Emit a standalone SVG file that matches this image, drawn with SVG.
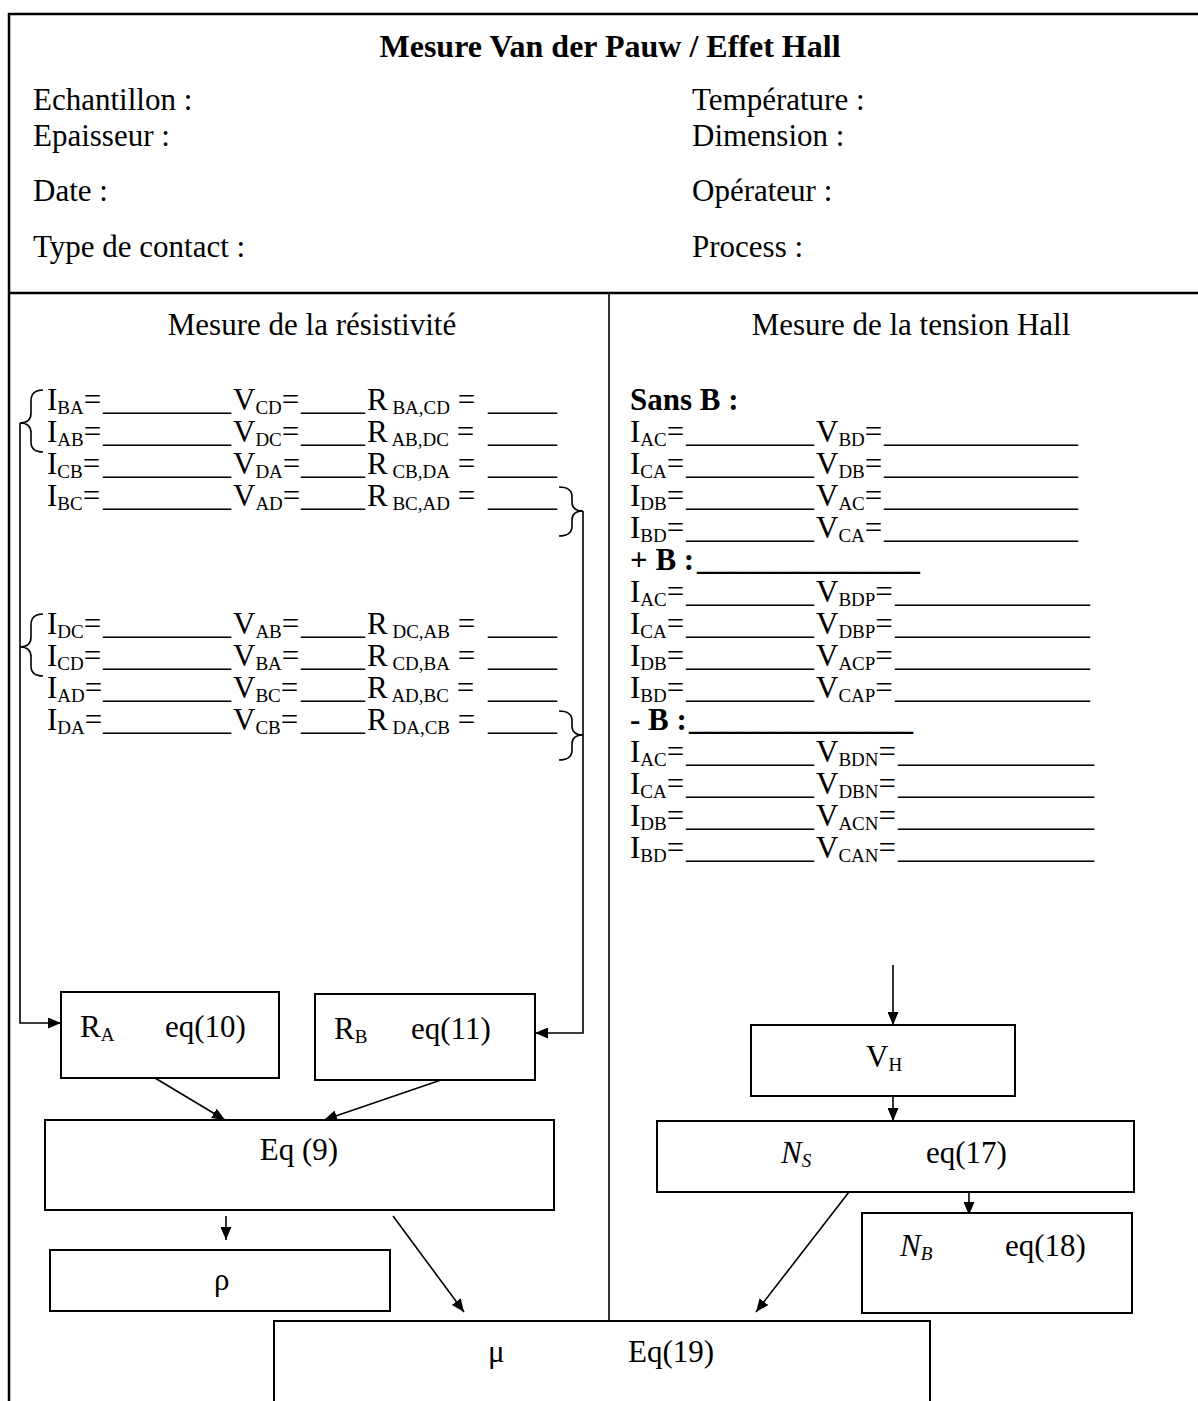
<svg xmlns="http://www.w3.org/2000/svg" width="1198" height="1401" viewBox="0 0 1198 1401">
<style>
.t{font-family:"Liberation Serif","Times New Roman",serif;font-size:31px;fill:#000}
.b{font-weight:bold}
.s{font-size:19px}
.i{font-style:italic}
.box{fill:#fff;stroke:#000;stroke-width:2}
.ln{fill:none;stroke:#000;stroke-width:1.6}
.fr{fill:none;stroke:#000;stroke-width:2.5}
</style>
<defs>
<marker id="ah" markerUnits="userSpaceOnUse" markerWidth="13" markerHeight="11" refX="13" refY="5.5" orient="auto">
<path d="M0,0 L13,5.5 L0,11 z" fill="#000"/>
</marker>
</defs>
<rect width="1198" height="1401" fill="#fff"/>
<g id="frame">
<path class="fr" d="M9,1401 V14 H1198"/>
<path class="fr" d="M9,293 H1198"/>
<path class="ln" d="M609,293 V1321"/>
</g>
<g id="header">
<text class="t b" x="610" y="57" text-anchor="middle" style="font-size:32px">Mesure Van der Pauw / Effet Hall</text>
<text class="t" x="33" y="110">Echantillon :</text>
<text class="t" x="33" y="146">Epaisseur :</text>
<text class="t" x="33" y="201">Date :</text>
<text class="t" x="33" y="257">Type de contact :</text>
<text class="t" x="692" y="110">Température :</text>
<text class="t" x="692" y="146">Dimension :</text>
<text class="t" x="692" y="201">Opérateur :</text>
<text class="t" x="692" y="257">Process :</text>
</g>
<g id="section-titles">
<text class="t" x="312" y="335" text-anchor="middle">Mesure de la résistivité</text>
<text class="t" x="911" y="335" text-anchor="middle">Mesure de la tension Hall</text>
</g>
<g id="resistivity-rows">
<text class="t" y="410" xml:space="preserve"><tspan x="47">I</tspan><tspan class="s" dy="4">BA</tspan><tspan dy="-4">=</tspan><tspan x="103" textLength="128" lengthAdjust="spacingAndGlyphs">________</tspan><tspan x="233">V</tspan><tspan class="s" dy="4">CD</tspan><tspan dy="-4">=</tspan><tspan x="301" textLength="64" lengthAdjust="spacingAndGlyphs">____</tspan><tspan x="367">R</tspan><tspan class="s" dy="4"> BA,CD</tspan><tspan dy="-4"> =</tspan><tspan x="488" textLength="69" lengthAdjust="spacingAndGlyphs">____</tspan></text>
<text class="t" y="442" xml:space="preserve"><tspan x="47">I</tspan><tspan class="s" dy="4">AB</tspan><tspan dy="-4">=</tspan><tspan x="103" textLength="128" lengthAdjust="spacingAndGlyphs">________</tspan><tspan x="233">V</tspan><tspan class="s" dy="4">DC</tspan><tspan dy="-4">=</tspan><tspan x="301" textLength="64" lengthAdjust="spacingAndGlyphs">____</tspan><tspan x="367">R</tspan><tspan class="s" dy="4"> AB,DC</tspan><tspan dy="-4"> =</tspan><tspan x="488" textLength="69" lengthAdjust="spacingAndGlyphs">____</tspan></text>
<text class="t" y="474" xml:space="preserve"><tspan x="47">I</tspan><tspan class="s" dy="4">CB</tspan><tspan dy="-4">=</tspan><tspan x="103" textLength="128" lengthAdjust="spacingAndGlyphs">________</tspan><tspan x="233">V</tspan><tspan class="s" dy="4">DA</tspan><tspan dy="-4">=</tspan><tspan x="301" textLength="64" lengthAdjust="spacingAndGlyphs">____</tspan><tspan x="367">R</tspan><tspan class="s" dy="4"> CB,DA</tspan><tspan dy="-4"> =</tspan><tspan x="488" textLength="69" lengthAdjust="spacingAndGlyphs">____</tspan></text>
<text class="t" y="506" xml:space="preserve"><tspan x="47">I</tspan><tspan class="s" dy="4">BC</tspan><tspan dy="-4">=</tspan><tspan x="103" textLength="128" lengthAdjust="spacingAndGlyphs">________</tspan><tspan x="233">V</tspan><tspan class="s" dy="4">AD</tspan><tspan dy="-4">=</tspan><tspan x="301" textLength="64" lengthAdjust="spacingAndGlyphs">____</tspan><tspan x="367">R</tspan><tspan class="s" dy="4"> BC,AD</tspan><tspan dy="-4"> =</tspan><tspan x="488" textLength="69" lengthAdjust="spacingAndGlyphs">____</tspan></text>
<text class="t" y="634" xml:space="preserve"><tspan x="47">I</tspan><tspan class="s" dy="4">DC</tspan><tspan dy="-4">=</tspan><tspan x="103" textLength="128" lengthAdjust="spacingAndGlyphs">________</tspan><tspan x="233">V</tspan><tspan class="s" dy="4">AB</tspan><tspan dy="-4">=</tspan><tspan x="301" textLength="64" lengthAdjust="spacingAndGlyphs">____</tspan><tspan x="367">R</tspan><tspan class="s" dy="4"> DC,AB</tspan><tspan dy="-4"> =</tspan><tspan x="488" textLength="69" lengthAdjust="spacingAndGlyphs">____</tspan></text>
<text class="t" y="666" xml:space="preserve"><tspan x="47">I</tspan><tspan class="s" dy="4">CD</tspan><tspan dy="-4">=</tspan><tspan x="103" textLength="128" lengthAdjust="spacingAndGlyphs">________</tspan><tspan x="233">V</tspan><tspan class="s" dy="4">BA</tspan><tspan dy="-4">=</tspan><tspan x="301" textLength="64" lengthAdjust="spacingAndGlyphs">____</tspan><tspan x="367">R</tspan><tspan class="s" dy="4"> CD,BA</tspan><tspan dy="-4"> =</tspan><tspan x="488" textLength="69" lengthAdjust="spacingAndGlyphs">____</tspan></text>
<text class="t" y="698" xml:space="preserve"><tspan x="47">I</tspan><tspan class="s" dy="4">AD</tspan><tspan dy="-4">=</tspan><tspan x="103" textLength="128" lengthAdjust="spacingAndGlyphs">________</tspan><tspan x="233">V</tspan><tspan class="s" dy="4">BC</tspan><tspan dy="-4">=</tspan><tspan x="301" textLength="64" lengthAdjust="spacingAndGlyphs">____</tspan><tspan x="367">R</tspan><tspan class="s" dy="4"> AD,BC</tspan><tspan dy="-4"> =</tspan><tspan x="488" textLength="69" lengthAdjust="spacingAndGlyphs">____</tspan></text>
<text class="t" y="730" xml:space="preserve"><tspan x="47">I</tspan><tspan class="s" dy="4">DA</tspan><tspan dy="-4">=</tspan><tspan x="103" textLength="128" lengthAdjust="spacingAndGlyphs">________</tspan><tspan x="233">V</tspan><tspan class="s" dy="4">CB</tspan><tspan dy="-4">=</tspan><tspan x="301" textLength="64" lengthAdjust="spacingAndGlyphs">____</tspan><tspan x="367">R</tspan><tspan class="s" dy="4"> DA,CB</tspan><tspan dy="-4"> =</tspan><tspan x="488" textLength="69" lengthAdjust="spacingAndGlyphs">____</tspan></text>
</g>
<g id="braces">
<path class="ln" d="M43,390 Q31,390 31,401 L31,413 Q31,423 20,423 Q31,423 31,433 L31,442 Q31,452 43,452"/>
<path class="ln" d="M559,487 Q572,487 572,497 L572,502 Q572,511 583,511 Q572,511 572,520 L572,526 Q572,536 559,536"/>
<path class="ln" d="M43,614 Q31,614 31,625 L31,637 Q31,647 20,647 Q31,647 31,657 L31,666 Q31,676 43,676"/>
<path class="ln" d="M559,711 Q572,711 572,721 L572,726 Q572,735 583,735 Q572,735 572,744 L572,750 Q572,760 559,760"/>
</g>
<g id="hall-rows">
<text class="t b" x="630" y="410">Sans B :</text>
<text class="t" y="442"><tspan x="630">I</tspan><tspan class="s" dy="4">AC</tspan><tspan dy="-4">=</tspan><tspan x="686" textLength="128" lengthAdjust="spacingAndGlyphs">________</tspan><tspan x="816">V</tspan><tspan class="s" dy="4">BD</tspan><tspan dy="-4">=</tspan><tspan x="884" textLength="194" lengthAdjust="spacingAndGlyphs">____________</tspan></text>
<text class="t" y="474"><tspan x="630">I</tspan><tspan class="s" dy="4">CA</tspan><tspan dy="-4">=</tspan><tspan x="686" textLength="128" lengthAdjust="spacingAndGlyphs">________</tspan><tspan x="816">V</tspan><tspan class="s" dy="4">DB</tspan><tspan dy="-4">=</tspan><tspan x="884" textLength="194" lengthAdjust="spacingAndGlyphs">____________</tspan></text>
<text class="t" y="506"><tspan x="630">I</tspan><tspan class="s" dy="4">DB</tspan><tspan dy="-4">=</tspan><tspan x="686" textLength="128" lengthAdjust="spacingAndGlyphs">________</tspan><tspan x="816">V</tspan><tspan class="s" dy="4">AC</tspan><tspan dy="-4">=</tspan><tspan x="884" textLength="194" lengthAdjust="spacingAndGlyphs">____________</tspan></text>
<text class="t" y="538"><tspan x="630">I</tspan><tspan class="s" dy="4">BD</tspan><tspan dy="-4">=</tspan><tspan x="686" textLength="128" lengthAdjust="spacingAndGlyphs">________</tspan><tspan x="816">V</tspan><tspan class="s" dy="4">CA</tspan><tspan dy="-4">=</tspan><tspan x="884" textLength="194" lengthAdjust="spacingAndGlyphs">____________</tspan></text>
<text class="t b" y="570"><tspan x="630">+ B :</tspan><tspan x="697" textLength="223" lengthAdjust="spacingAndGlyphs">______________</tspan></text>
<text class="t" y="602"><tspan x="630">I</tspan><tspan class="s" dy="4">AC</tspan><tspan dy="-4">=</tspan><tspan x="686" textLength="128" lengthAdjust="spacingAndGlyphs">________</tspan><tspan x="816">V</tspan><tspan class="s" dy="4">BDP</tspan><tspan dy="-4">=</tspan><tspan x="895" textLength="195" lengthAdjust="spacingAndGlyphs">____________</tspan></text>
<text class="t" y="634"><tspan x="630">I</tspan><tspan class="s" dy="4">CA</tspan><tspan dy="-4">=</tspan><tspan x="686" textLength="128" lengthAdjust="spacingAndGlyphs">________</tspan><tspan x="816">V</tspan><tspan class="s" dy="4">DBP</tspan><tspan dy="-4">=</tspan><tspan x="895" textLength="195" lengthAdjust="spacingAndGlyphs">____________</tspan></text>
<text class="t" y="666"><tspan x="630">I</tspan><tspan class="s" dy="4">DB</tspan><tspan dy="-4">=</tspan><tspan x="686" textLength="128" lengthAdjust="spacingAndGlyphs">________</tspan><tspan x="816">V</tspan><tspan class="s" dy="4">ACP</tspan><tspan dy="-4">=</tspan><tspan x="895" textLength="195" lengthAdjust="spacingAndGlyphs">____________</tspan></text>
<text class="t" y="698"><tspan x="630">I</tspan><tspan class="s" dy="4">BD</tspan><tspan dy="-4">=</tspan><tspan x="686" textLength="128" lengthAdjust="spacingAndGlyphs">________</tspan><tspan x="816">V</tspan><tspan class="s" dy="4">CAP</tspan><tspan dy="-4">=</tspan><tspan x="895" textLength="195" lengthAdjust="spacingAndGlyphs">____________</tspan></text>
<text class="t b" y="730"><tspan x="630">- B :</tspan><tspan x="689" textLength="224" lengthAdjust="spacingAndGlyphs">______________</tspan></text>
<text class="t" y="762"><tspan x="630">I</tspan><tspan class="s" dy="4">AC</tspan><tspan dy="-4">=</tspan><tspan x="686" textLength="128" lengthAdjust="spacingAndGlyphs">________</tspan><tspan x="816">V</tspan><tspan class="s" dy="4">BDN</tspan><tspan dy="-4">=</tspan><tspan x="898" textLength="196" lengthAdjust="spacingAndGlyphs">____________</tspan></text>
<text class="t" y="794"><tspan x="630">I</tspan><tspan class="s" dy="4">CA</tspan><tspan dy="-4">=</tspan><tspan x="686" textLength="128" lengthAdjust="spacingAndGlyphs">________</tspan><tspan x="816">V</tspan><tspan class="s" dy="4">DBN</tspan><tspan dy="-4">=</tspan><tspan x="898" textLength="196" lengthAdjust="spacingAndGlyphs">____________</tspan></text>
<text class="t" y="826"><tspan x="630">I</tspan><tspan class="s" dy="4">DB</tspan><tspan dy="-4">=</tspan><tspan x="686" textLength="128" lengthAdjust="spacingAndGlyphs">________</tspan><tspan x="816">V</tspan><tspan class="s" dy="4">ACN</tspan><tspan dy="-4">=</tspan><tspan x="898" textLength="196" lengthAdjust="spacingAndGlyphs">____________</tspan></text>
<text class="t" y="858"><tspan x="630">I</tspan><tspan class="s" dy="4">BD</tspan><tspan dy="-4">=</tspan><tspan x="686" textLength="128" lengthAdjust="spacingAndGlyphs">________</tspan><tspan x="816">V</tspan><tspan class="s" dy="4">CAN</tspan><tspan dy="-4">=</tspan><tspan x="898" textLength="196" lengthAdjust="spacingAndGlyphs">____________</tspan></text>
</g>
<g id="connectors">
<path class="ln" d="M20,423 V1023 H61" marker-end="url(#ah)"/>
<path class="ln" d="M583,511 V1033 H535" marker-end="url(#ah)"/>
<path class="ln" d="M155,1078 L225,1120" marker-end="url(#ah)"/>
<path class="ln" d="M441,1080 L324,1120" marker-end="url(#ah)"/>
<path class="ln" d="M226,1216 V1240" marker-end="url(#ah)"/>
<path class="ln" d="M393,1216 L464,1312" marker-end="url(#ah)"/>
<path class="ln" d="M893,965 V1025" marker-end="url(#ah)"/>
<path class="ln" d="M893,1097 V1121" marker-end="url(#ah)"/>
<path class="ln" d="M969,1192 V1215" marker-end="url(#ah)"/>
<path class="ln" d="M849,1192 L756,1312" marker-end="url(#ah)"/>
</g>
<g id="node-RA">
<rect class="box" x="61" y="992" width="218" height="86"/>
<text class="t" y="1037"><tspan x="80">R</tspan><tspan class="s" dy="4">A</tspan><tspan dy="-4" x="165">eq(10)</tspan></text>
</g>
<g id="node-RB">
<rect class="box" x="315" y="994" width="220" height="86"/>
<text class="t" y="1039"><tspan x="334">R</tspan><tspan class="s" dy="4">B</tspan><tspan dy="-4" x="411">eq(11)</tspan></text>
</g>
<g id="node-Eq9">
<rect class="box" x="45" y="1120" width="509" height="90"/>
<text class="t" x="299" y="1160" text-anchor="middle">Eq (9)</text>
</g>
<g id="node-rho">
<rect class="box" x="50" y="1250" width="340" height="61"/>
<text class="t" x="214" y="1290">ρ</text>
</g>
<g id="node-mu">
<rect class="box" x="274" y="1321" width="656" height="100"/>
<text class="t" y="1362"><tspan x="488">μ</tspan><tspan x="628">Eq(19)</tspan></text>
</g>
<g id="node-VH">
<rect class="box" x="751" y="1025" width="264" height="71"/>
<text class="t" y="1067"><tspan x="866">V</tspan><tspan class="s" dy="4">H</tspan></text>
</g>
<g id="node-NS">
<rect class="box" x="657" y="1121" width="477" height="71"/>
<text class="t" y="1163"><tspan class="i" x="781">N</tspan><tspan class="s i" dy="4">S</tspan><tspan dy="-4" x="926">eq(17)</tspan></text>
</g>
<g id="node-NB">
<rect class="box" x="862" y="1213" width="270" height="100"/>
<text class="t" y="1256"><tspan class="i" x="900">N</tspan><tspan class="s i" dy="4">B</tspan><tspan dy="-4" x="1005">eq(18)</tspan></text>
</g>
</svg>
